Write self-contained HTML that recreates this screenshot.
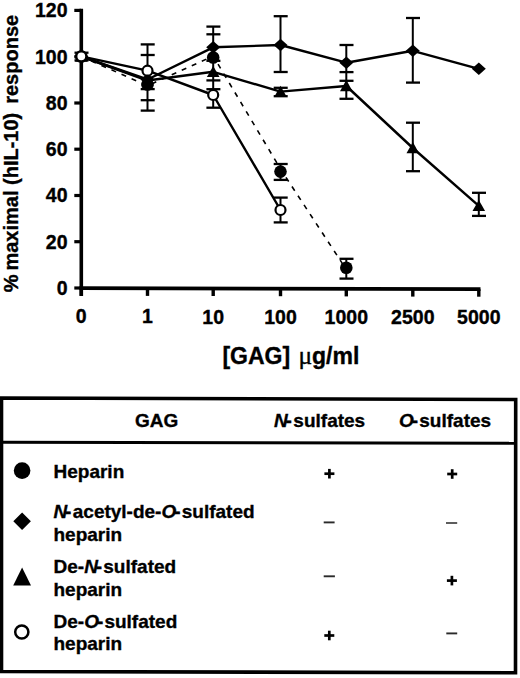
<!DOCTYPE html>
<html><head><meta charset="utf-8"><style>
html,body{margin:0;padding:0;background:#fff;width:520px;height:678px;overflow:hidden}
svg{display:block}

</style></head><body>
<svg width="520" height="678" viewBox="0 0 520 678">
<g stroke="#000" fill="none" stroke-linecap="butt">
<line x1="81.3" y1="8.8" x2="81.3" y2="296" stroke-width="3.6"/>
<line x1="79.5" y1="288.2" x2="480.5" y2="289.2" stroke-width="3.8"/>
<line x1="74.3" y1="288.0" x2="81" y2="288.0" stroke-width="3.2"/>
<line x1="74.3" y1="241.7" x2="81" y2="241.7" stroke-width="3.2"/>
<line x1="74.3" y1="195.5" x2="81" y2="195.5" stroke-width="3.2"/>
<line x1="74.3" y1="149.2" x2="81" y2="149.2" stroke-width="3.2"/>
<line x1="74.3" y1="103.0" x2="81" y2="103.0" stroke-width="3.2"/>
<line x1="74.3" y1="56.7" x2="81" y2="56.7" stroke-width="3.2"/>
<line x1="74.3" y1="10.4" x2="81" y2="10.4" stroke-width="3.2"/>
<line x1="81.3" y1="288.2" x2="81.3" y2="295.7" stroke-width="3.4"/>
<line x1="147.5" y1="288.4" x2="147.5" y2="295.9" stroke-width="3.4"/>
<line x1="213.2" y1="288.5" x2="213.2" y2="296.0" stroke-width="3.4"/>
<line x1="280.5" y1="288.7" x2="280.5" y2="296.2" stroke-width="3.4"/>
<line x1="346.3" y1="288.9" x2="346.3" y2="296.4" stroke-width="3.4"/>
<line x1="412.8" y1="289.1" x2="412.8" y2="296.6" stroke-width="3.4"/>
<line x1="478.8" y1="289.2" x2="478.8" y2="296.7" stroke-width="3.4"/>
</g>
<g font-family="Liberation Sans, sans-serif" font-weight="bold" font-size="19.5" fill="#000" stroke="#000" stroke-width="0.35">
<text x="67.5" y="294.8" text-anchor="end">0</text>
<text x="67.5" y="248.5" text-anchor="end">20</text>
<text x="67.5" y="202.3" text-anchor="end">40</text>
<text x="67.5" y="156.0" text-anchor="end">60</text>
<text x="67.5" y="109.8" text-anchor="end">80</text>
<text x="67.5" y="63.5" text-anchor="end">100</text>
<text x="67.5" y="17.2" text-anchor="end">120</text>
<text x="81.3" y="323.3" text-anchor="middle">0</text>
<text x="147.5" y="323.4" text-anchor="middle">1</text>
<text x="213.2" y="323.6" text-anchor="middle">10</text>
<text x="280.5" y="323.8" text-anchor="middle">100</text>
<text x="346.3" y="323.9" text-anchor="middle">1000</text>
<text x="412.8" y="324.1" text-anchor="middle">2500</text>
<text x="478.8" y="324.2" text-anchor="middle">5000</text>
</g>
<text x="222.4" y="364" font-family="Liberation Sans, sans-serif" font-weight="bold" font-size="23" fill="#000" stroke="#000" stroke-width="0.35">[GAG]</text>
<text x="298.5" y="364.3" font-family="Liberation Serif, serif" font-size="25.5" fill="#000" stroke="#000" stroke-width="0.35">μ</text>
<text x="312" y="364" font-family="Liberation Sans, sans-serif" font-weight="bold" font-size="23" fill="#000" stroke="#000" stroke-width="0.35">g/ml</text>
<text transform="translate(17.5,292.3) rotate(-90)" font-family="Liberation Sans, sans-serif" font-weight="bold" font-size="20" fill="#000" stroke="#000" stroke-width="0.35">%</text>
<text transform="translate(17.5,270.6) rotate(-90)" font-family="Liberation Sans, sans-serif" font-weight="bold" font-size="20" fill="#000" stroke="#000" stroke-width="0.35">maximal (hIL-10)</text>
<text transform="translate(17.5,103.8) rotate(-90)" font-family="Liberation Sans, sans-serif" font-weight="bold" font-size="20" fill="#000" stroke="#000" stroke-width="0.35">response</text>
<g stroke="#000" fill="none">
<line x1="81.3" y1="52.7" x2="81.3" y2="60.4" stroke-width="2"/>
<line x1="74.5" y1="52.7" x2="88.5" y2="52.7" stroke-width="2.3"/>
<line x1="74.5" y1="60.4" x2="88.5" y2="60.4" stroke-width="2.3"/>
<line x1="147.5" y1="44.4" x2="147.5" y2="110.6" stroke-width="2"/>
<line x1="140.7" y1="44.4" x2="154.7" y2="44.4" stroke-width="2.3"/>
<line x1="140.7" y1="55" x2="154.7" y2="55" stroke-width="2.3"/>
<line x1="140.7" y1="89.1" x2="154.7" y2="89.1" stroke-width="2.3"/>
<line x1="140.7" y1="100.2" x2="154.7" y2="100.2" stroke-width="2.3"/>
<line x1="140.7" y1="110.6" x2="154.7" y2="110.6" stroke-width="2.3"/>
<line x1="213.2" y1="26.6" x2="213.2" y2="107.7" stroke-width="2"/>
<line x1="206.4" y1="26.6" x2="220.4" y2="26.6" stroke-width="2.3"/>
<line x1="206.4" y1="34.3" x2="220.4" y2="34.3" stroke-width="2.3"/>
<line x1="206.4" y1="60.8" x2="220.4" y2="60.8" stroke-width="2.3"/>
<line x1="206.4" y1="80.4" x2="220.4" y2="80.4" stroke-width="2.3"/>
<line x1="206.4" y1="89.2" x2="220.4" y2="89.2" stroke-width="2.3"/>
<line x1="206.4" y1="107.7" x2="220.4" y2="107.7" stroke-width="2.3"/>
<line x1="280.5" y1="16.2" x2="280.5" y2="72" stroke-width="2"/>
<line x1="280.5" y1="87.8" x2="280.5" y2="96.2" stroke-width="2"/>
<line x1="280.5" y1="164" x2="280.5" y2="179.9" stroke-width="2"/>
<line x1="280.5" y1="197.6" x2="280.5" y2="222.4" stroke-width="2"/>
<line x1="273.7" y1="16.2" x2="287.7" y2="16.2" stroke-width="2.3"/>
<line x1="273.7" y1="72" x2="287.7" y2="72" stroke-width="2.3"/>
<line x1="273.7" y1="87.8" x2="287.7" y2="87.8" stroke-width="2.3"/>
<line x1="273.7" y1="96.2" x2="287.7" y2="96.2" stroke-width="2.3"/>
<line x1="273.7" y1="164" x2="287.7" y2="164" stroke-width="2.3"/>
<line x1="273.7" y1="179.9" x2="287.7" y2="179.9" stroke-width="2.3"/>
<line x1="273.7" y1="197.6" x2="287.7" y2="197.6" stroke-width="2.3"/>
<line x1="273.7" y1="222.4" x2="287.7" y2="222.4" stroke-width="2.3"/>
<line x1="346.3" y1="45" x2="346.3" y2="98.8" stroke-width="2"/>
<line x1="346.3" y1="258.8" x2="346.3" y2="278.6" stroke-width="2"/>
<line x1="339.5" y1="45" x2="353.5" y2="45" stroke-width="2.3"/>
<line x1="339.5" y1="72.1" x2="353.5" y2="72.1" stroke-width="2.3"/>
<line x1="339.5" y1="80.8" x2="353.5" y2="80.8" stroke-width="2.3"/>
<line x1="339.5" y1="98.8" x2="353.5" y2="98.8" stroke-width="2.3"/>
<line x1="339.5" y1="258.8" x2="353.5" y2="258.8" stroke-width="2.3"/>
<line x1="339.5" y1="278.6" x2="353.5" y2="278.6" stroke-width="2.3"/>
<line x1="412.8" y1="18" x2="412.8" y2="82.6" stroke-width="2"/>
<line x1="412.8" y1="122.7" x2="412.8" y2="171.2" stroke-width="2"/>
<line x1="406.0" y1="18" x2="420.0" y2="18" stroke-width="2.3"/>
<line x1="406.0" y1="82.6" x2="420.0" y2="82.6" stroke-width="2.3"/>
<line x1="406.0" y1="122.7" x2="420.0" y2="122.7" stroke-width="2.3"/>
<line x1="406.0" y1="171.2" x2="420.0" y2="171.2" stroke-width="2.3"/>
<line x1="478.8" y1="192.8" x2="478.8" y2="215.9" stroke-width="2"/>
<line x1="472.0" y1="192.8" x2="486.0" y2="192.8" stroke-width="2.3"/>
<line x1="472.0" y1="215.9" x2="486.0" y2="215.9" stroke-width="2.3"/>
</g>
<polyline points="81.3,56.5 147.5,85.8 213.2,56.0 280.5,169.0 346.3,269.5" fill="none" stroke="#000" stroke-width="1.6" stroke-dasharray="5,6"/>
<polyline points="81.3,56.3 147.5,70.7 213.2,95.0 280.5,210.0" fill="none" stroke="#000" stroke-width="2.4" stroke-linejoin="round"/>
<polyline points="81.3,56.5 147.5,80.5 213.2,71.8 280.5,91.6 346.3,86.0 412.8,148.0 478.8,205.8" fill="none" stroke="#000" stroke-width="2.4" stroke-linejoin="round"/>
<polyline points="81.3,56.5 147.5,79.5 213.2,47.3 280.5,45.0 346.3,62.7 412.8,50.8 478.8,68.8" fill="none" stroke="#000" stroke-width="2.4" stroke-linejoin="round"/>
<polygon points="81.3,50.2 88.3,56.5 81.3,62.8 74.3,56.5" fill="#000"/>
<polygon points="147.5,73.2 154.5,79.5 147.5,85.8 140.5,79.5" fill="#000"/>
<polygon points="213.2,41.0 220.2,47.3 213.2,53.6 206.2,47.3" fill="#000"/>
<polygon points="280.5,38.7 287.5,45.0 280.5,51.3 273.5,45.0" fill="#000"/>
<polygon points="346.3,56.4 353.3,62.7 346.3,69.0 339.3,62.7" fill="#000"/>
<polygon points="412.8,44.5 419.8,50.8 412.8,57.1 405.8,50.8" fill="#000"/>
<polygon points="478.8,62.5 485.8,68.8 478.8,75.1 471.8,68.8" fill="#000"/>
<polygon points="81.3,50.6 87.6,61.8 75.0,61.8" fill="#000"/>
<polygon points="147.5,74.6 153.8,85.8 141.2,85.8" fill="#000"/>
<polygon points="213.2,65.9 219.5,77.1 206.9,77.1" fill="#000"/>
<polygon points="280.5,85.7 286.8,96.9 274.2,96.9" fill="#000"/>
<polygon points="346.3,80.1 352.6,91.3 340.0,91.3" fill="#000"/>
<polygon points="412.8,142.1 419.1,153.3 406.5,153.3" fill="#000"/>
<polygon points="478.8,199.9 485.1,211.1 472.5,211.1" fill="#000"/>
<circle cx="81.3" cy="56.5" r="6.3" fill="#000"/>
<circle cx="147.5" cy="84.5" r="6.3" fill="#000"/>
<circle cx="213.2" cy="57.5" r="6.3" fill="#000"/>
<circle cx="280.5" cy="171.6" r="6.3" fill="#000"/>
<circle cx="346.3" cy="267.7" r="6.3" fill="#000"/>
<circle cx="81.3" cy="56.3" r="5.0" fill="#fff" stroke="#000" stroke-width="2.2"/>
<circle cx="147.5" cy="70.7" r="5.0" fill="#fff" stroke="#000" stroke-width="2.2"/>
<circle cx="213.2" cy="95.0" r="5.0" fill="#fff" stroke="#000" stroke-width="2.2"/>
<circle cx="280.5" cy="210.0" r="5.0" fill="#fff" stroke="#000" stroke-width="2.2"/>
<g stroke="#000" fill="none">
<polygon points="1.5,398 515.7,399.5 515.5,672.7 1.5,671.5" stroke-width="3.6"/>
<line x1="1.5" y1="442.3" x2="515.5" y2="443.3" stroke-width="3"/>
</g>
<text x="135" y="426.5" font-family="Liberation Sans, sans-serif" font-weight="bold" font-size="19" fill="#000" stroke="#000" stroke-width="0.35">GAG</text>
<text x="274" y="426.5" font-family="Liberation Sans, sans-serif" font-weight="bold" font-size="19" fill="#000" stroke="#000" stroke-width="0.35"><tspan font-style="italic">N</tspan><tspan dx="-2.3">-</tspan><tspan dx="1.6">sulfates</tspan></text>
<text x="399" y="427" font-family="Liberation Sans, sans-serif" font-weight="bold" font-size="19" fill="#000" stroke="#000" stroke-width="0.35"><tspan font-style="italic">O</tspan><tspan dx="-2">-</tspan><tspan dx="1.2">sulfates</tspan></text>
<text x="53.5" y="477.8" font-family="Liberation Sans, sans-serif" font-weight="bold" font-size="19" fill="#000" stroke="#000" stroke-width="0.35">Heparin</text>
<text x="53.5" y="517.8" font-family="Liberation Sans, sans-serif" font-weight="bold" font-size="19" fill="#000" stroke="#000" stroke-width="0.35"><tspan font-style="italic">N</tspan><tspan dx="-2.2">-</tspan><tspan dx="1.4">acetyl-de-</tspan><tspan font-style="italic">O</tspan><tspan dx="-2">-</tspan><tspan dx="1.2">sulfated</tspan></text>
<text x="53.5" y="540.8" font-family="Liberation Sans, sans-serif" font-weight="bold" font-size="19" fill="#000" stroke="#000" stroke-width="0.35">heparin</text>
<text x="53.5" y="572.8" font-family="Liberation Sans, sans-serif" font-weight="bold" font-size="19" fill="#000" stroke="#000" stroke-width="0.35">De-<tspan font-style="italic">N</tspan><tspan dx="-2.2">-</tspan><tspan dx="1.3">sulfated</tspan></text>
<text x="53.5" y="595.9" font-family="Liberation Sans, sans-serif" font-weight="bold" font-size="19" fill="#000" stroke="#000" stroke-width="0.35">heparin</text>
<text x="53.5" y="627.8" font-family="Liberation Sans, sans-serif" font-weight="bold" font-size="19" fill="#000" stroke="#000" stroke-width="0.35">De-<tspan font-style="italic">O</tspan><tspan dx="-2">-</tspan><tspan dx="1.2">sulfated</tspan></text>
<text x="53.5" y="650.2" font-family="Liberation Sans, sans-serif" font-weight="bold" font-size="19" fill="#000" stroke="#000" stroke-width="0.35">heparin</text>
<circle cx="22.1" cy="470.6" r="8.3" fill="#000"/>
<polygon points="22.1,512.6 30.9,521.3 22.1,530 13.3,521.3" fill="#000"/>
<polygon points="22.1,567.6 31,585.6 13.2,585.6" fill="#000"/>
<circle cx="21.8" cy="632" r="6.6" fill="#fff" stroke="#000" stroke-width="2.5"/>
<line x1="324.4" y1="473.7" x2="334.4" y2="473.7" stroke="#000" stroke-width="2.7"/><line x1="329.4" y1="468.9" x2="329.4" y2="478.5" stroke="#000" stroke-width="2.7"/>
<line x1="447.2" y1="474.0" x2="457.2" y2="474.0" stroke="#000" stroke-width="2.7"/><line x1="452.2" y1="469.2" x2="452.2" y2="478.8" stroke="#000" stroke-width="2.7"/>
<line x1="323.7" y1="522.4" x2="334.6" y2="522.4" stroke="#2a2a2a" stroke-width="1.9"/>
<line x1="446" y1="523" x2="457.2" y2="523" stroke="#555" stroke-width="1.9"/>
<line x1="323.7" y1="576.3" x2="334.9" y2="576.3" stroke="#2a2a2a" stroke-width="1.9"/>
<line x1="446.9" y1="580.6" x2="456.9" y2="580.6" stroke="#000" stroke-width="2.7"/><line x1="451.9" y1="575.8" x2="451.9" y2="585.4" stroke="#000" stroke-width="2.7"/>
<line x1="324.3" y1="635.5" x2="334.3" y2="635.5" stroke="#000" stroke-width="2.7"/><line x1="329.3" y1="630.7" x2="329.3" y2="640.3" stroke="#000" stroke-width="2.7"/>
<line x1="446.3" y1="633.4" x2="457.2" y2="633.4" stroke="#2a2a2a" stroke-width="1.9"/>
</svg>
</body></html>
